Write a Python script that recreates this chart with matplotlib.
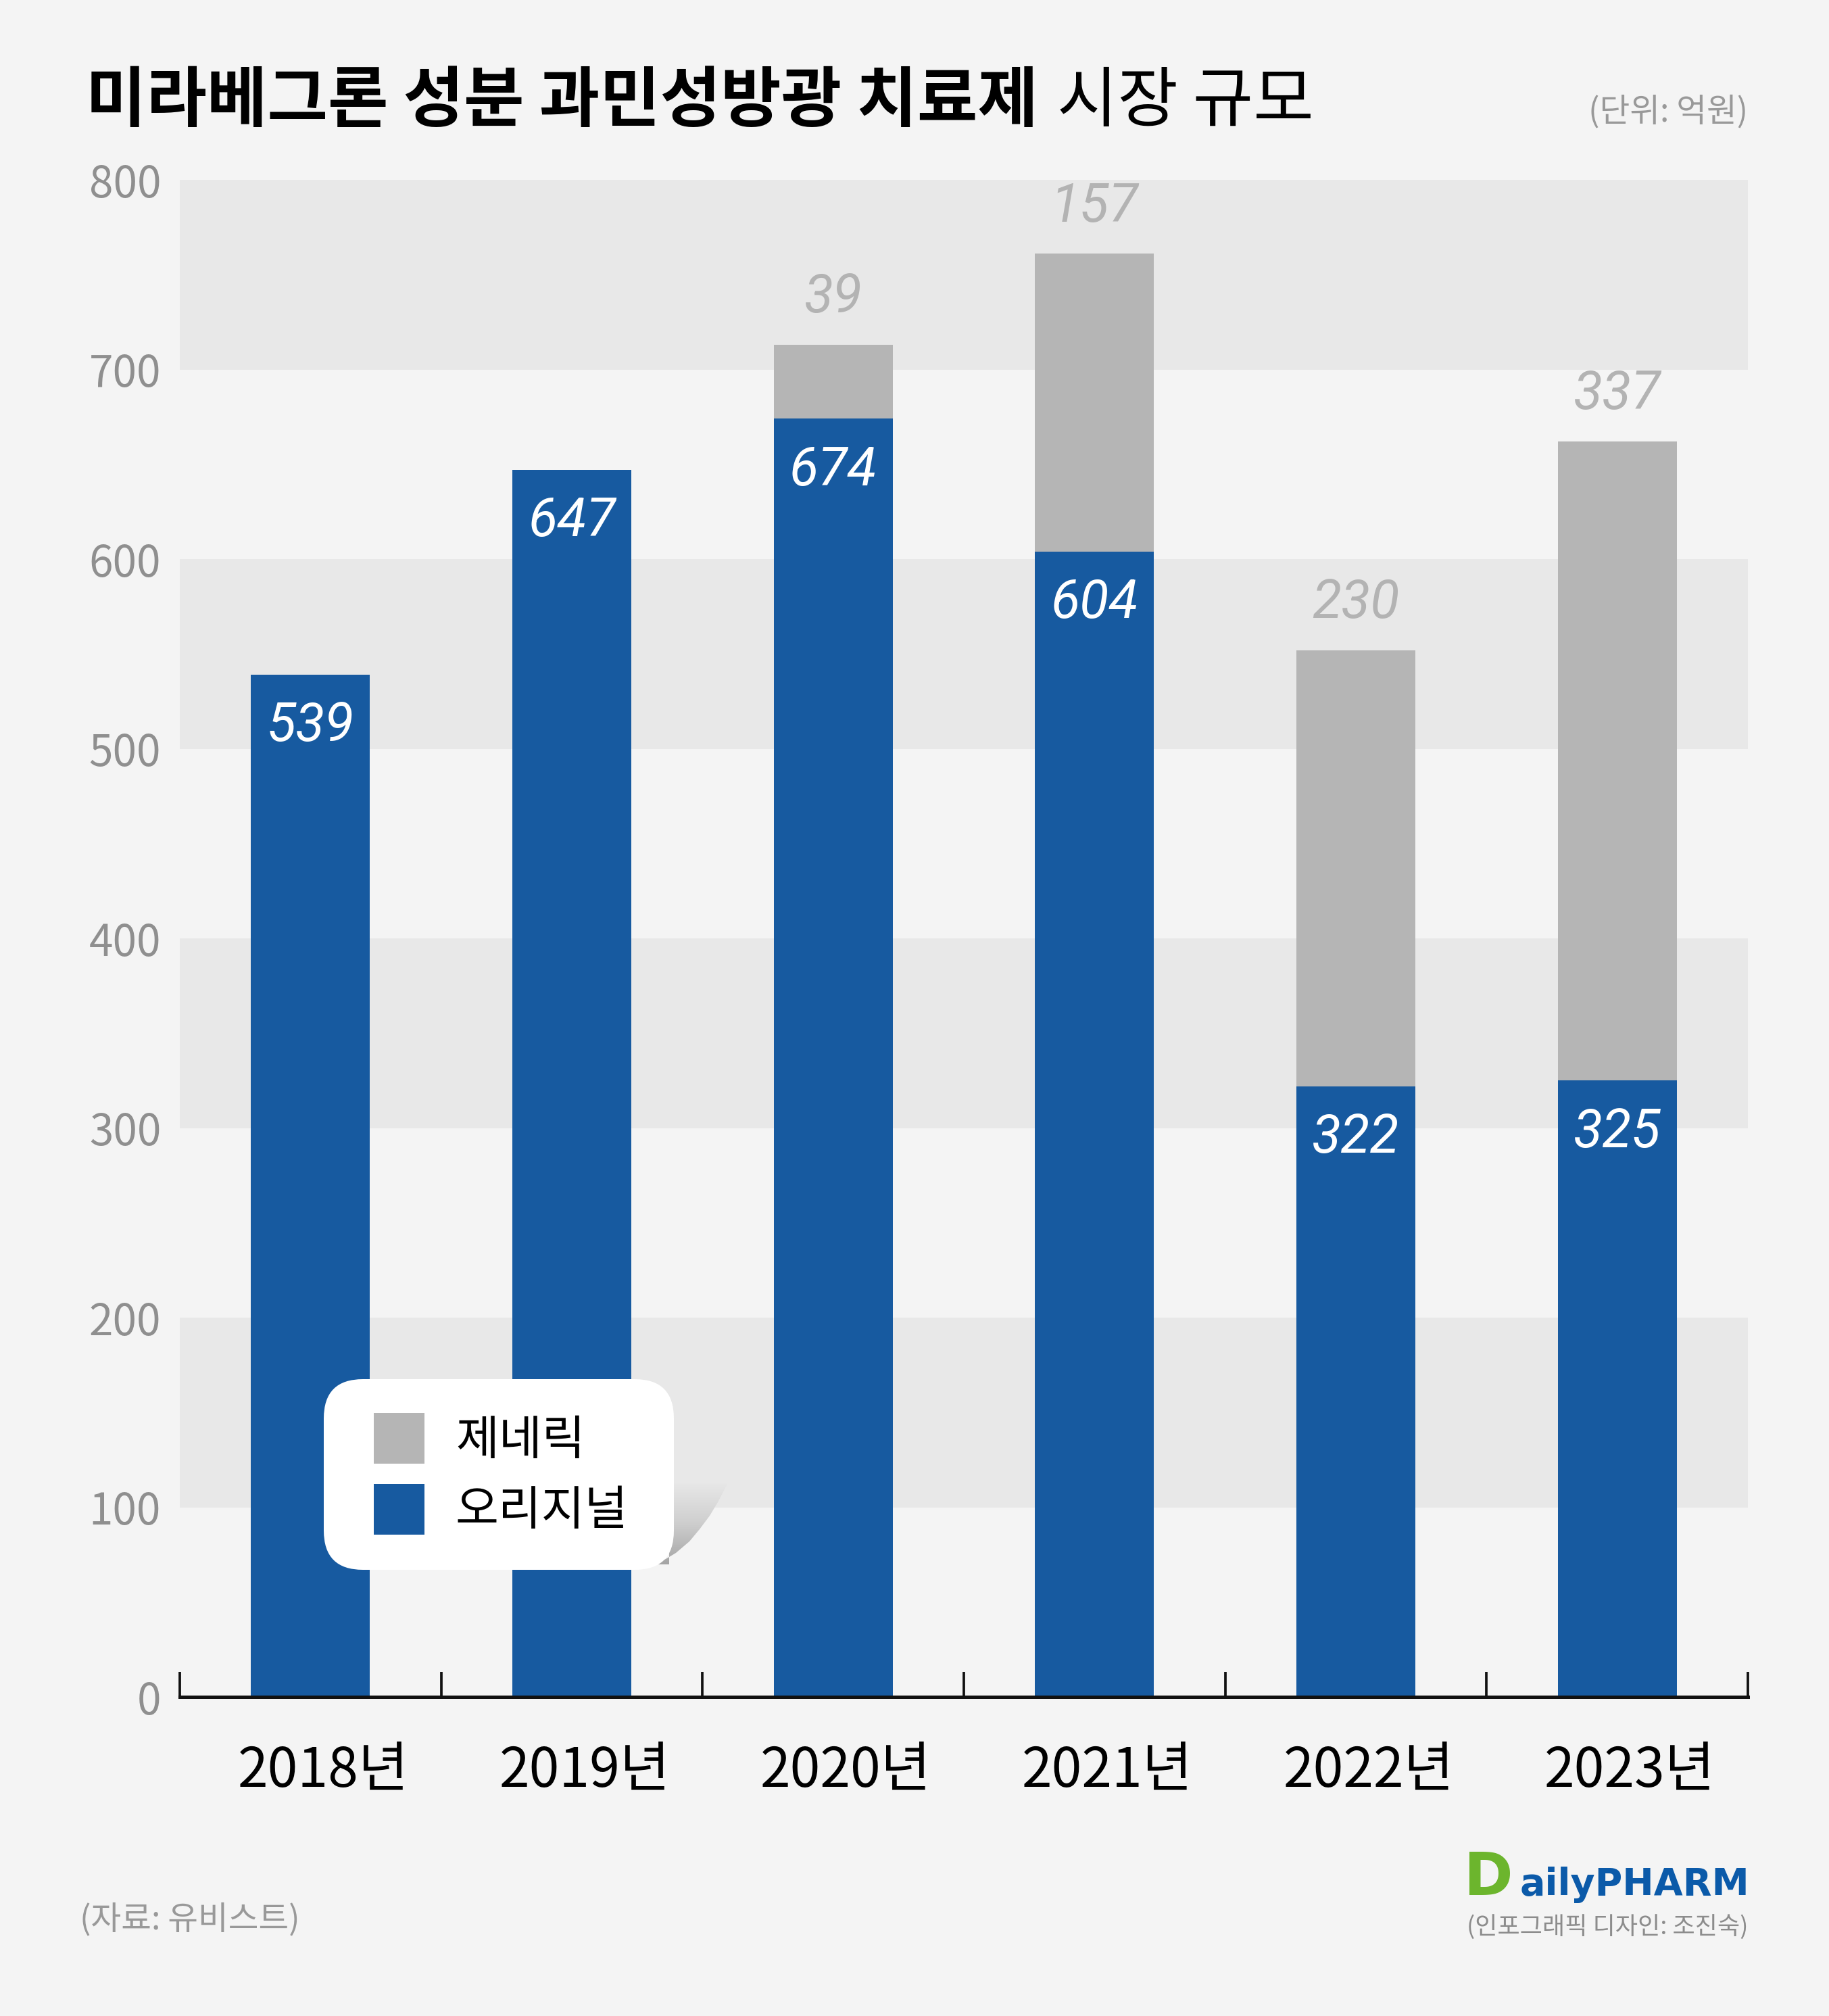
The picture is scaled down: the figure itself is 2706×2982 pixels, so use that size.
import matplotlib
matplotlib.use('Agg')
import matplotlib.pyplot as plt
import numpy as np
from matplotlib.patches import FancyBboxPatch, Polygon
from matplotlib.transforms import ScaledTranslation

# ---- data ----
years = ['2018년', '2019년', '2020년', '2021년', '2022년', '2023년']
original = [539, 647, 674, 604, 322, 325]
generic = [0, 0, 39, 157, 230, 337]
yticks = [0, 100, 200, 300, 400, 500, 600, 700, 800]
bands = [(100, 200), (300, 400), (500, 600), (700, 800)]
title_bold = '미라베그론 성분 과민성방광 치료제'
title_regular = '시장 규모'
unit_text = '(단위: 억원)'
source_text = '(자료: 유비스트)'
credit_text = '(인포그래픽 디자인: 조진숙)'

KR = ['Noto Sans CJK KR', 'DejaVu Sans']
NUM = ['Roboto', 'DejaVu Sans']
plt.rcParams['font.family'] = KR

BLUE = '#175aa0'
GRAY = '#b5b5b5'
BG = '#f4f4f4'
BAND = '#e8e8e8'

W, H = 2706, 2982
fig = plt.figure(figsize=(W / 100, H / 100), dpi=100, facecolor=BG)
ax = fig.add_axes([266 / W, 1 - 2510 / H, 2320 / W, 2244 / H], zorder=0)
ax.set_facecolor(BG)

x = np.arange(len(years))
for lo, hi in bands:
    ax.axhspan(lo, hi, color=BAND, lw=0, zorder=0)

bw = 0.455
b_orig = ax.bar(x, original, width=bw, color=BLUE, zorder=2, label='오리지널')
b_gen = ax.bar(x, generic, bottom=original, width=bw, color=GRAY, zorder=2, label='제네릭')

for i, (o, g) in enumerate(zip(original, generic)):
    ax.annotate(str(o), (i, o), xytext=(0, -55), textcoords='offset points',
                ha='center', va='center', color='white', fontsize=57,
                style='italic', family=NUM, zorder=3)
    if g > 0:
        ax.annotate(str(g), (i, o + g), xytext=(0, 50), textcoords='offset points',
                    ha='center', va='center', color='#b3b3b3', fontsize=57,
                    style='italic', family=NUM, zorder=3)

ax.set_xlim(-0.5, len(years) - 0.5)
ax.set_ylim(0, 800)
for s in ['top', 'right', 'left']:
    ax.spines[s].set_visible(False)
ax.spines['bottom'].set_linewidth(3.6)
ax.spines['bottom'].set_color('#111111')
ax.spines['bottom'].set_zorder(4)

ax.set_yticks(yticks)
ax.tick_params(axis='y', length=0, pad=20, labelsize=46, labelcolor='#8f8f8f')
ax.set_xticks(x, years)
ax.tick_params(axis='x', which='major', length=0, pad=50, labelsize=58, labelcolor='black')
ax.set_xticks(np.arange(-0.5, len(years), 1), minor=True)
ax.tick_params(axis='x', which='minor', direction='in', length=27, width=2.7, color='#111111')
for lab in ax.get_xticklabels():
    lab.set_transform(lab.get_transform() + ScaledTranslation(0.19, 0, fig.dpi_scale_trans))

# ---- title ----
ty = 1 - 151 / H
t1 = fig.text(0.047, ty, title_bold, fontsize=70, fontweight='bold', va='center', ha='left', color='black')
r = fig.canvas.get_renderer()
bb = t1.get_window_extent(r)
fig.text((bb.x1 + 28) / W, ty, title_regular, fontsize=70, va='center', ha='left', color='black')
fig.text(2586 / W, 1 - 166 / H, unit_text, fontsize=35, va='center', ha='right', color='#999999')
fig.text(118 / W, 1 - 2840 / H, source_text, fontsize=35, va='center', ha='left', color='#999999')
fig.text(2586 / W, 1 - 2850 / H, credit_text, fontsize=26, va='center', ha='right', color='#8c8c8c')

# ---- overlay (legend box, curl shadow, logo) ----
ov = fig.add_axes([0, 0, 1, 1], zorder=1)
ov.axis('off')
ov.patch.set_visible(False)

curl = Polygon([(990, 2190), (1070, 2190), (1076, 2195), (1062, 2222), (1050, 2242),
                (1035, 2262), (1020, 2280), (1000, 2297), (985, 2306), (968, 2314), (990, 2314)],
               closed=True, facecolor='none', edgecolor='none')
ov.add_patch(curl)
grad = np.linspace(0, 1, 256).reshape(-1, 1)
cmap = matplotlib.colors.LinearSegmentedColormap.from_list('c', ['#e9e9e9', '#cfcfcf', '#a4a4a4'])
im = ov.imshow(grad, extent=(960, 1080, 2314, 2190), cmap=cmap, aspect='auto', zorder=1)
im.set_clip_path(curl)
ov.set_xlim(0, W)
ov.set_ylim(H, 0)

box = FancyBboxPatch((479, 2040), 518, 282, boxstyle='round,pad=0,rounding_size=58',
                     facecolor='white', edgecolor='none', zorder=2)
ov.add_patch(box)

ov.text(2166, 2803, 'D', color='#6cb52d', fontsize=63, fontweight='bold', family='DejaVu Sans',
        va='baseline', ha='left')
ov.text(2249, 2803, 'ailyPHARM', color='#0b5aa9', fontsize=40, fontweight='bold', family='DejaVu Sans',
        va='baseline', ha='left')

fig.legend(handles=[b_gen, b_orig], labels=['제네릭', '오리지널'], loc='upper left',
           bbox_to_anchor=(553 / W, 1 - 2090 / H), frameon=False, fontsize=50,
           handlelength=1.08, handleheight=1.285, handletextpad=0.66, labelspacing=0.4,
           borderpad=0, borderaxespad=0)

fig.savefig('out.png', dpi=100, facecolor=BG)
